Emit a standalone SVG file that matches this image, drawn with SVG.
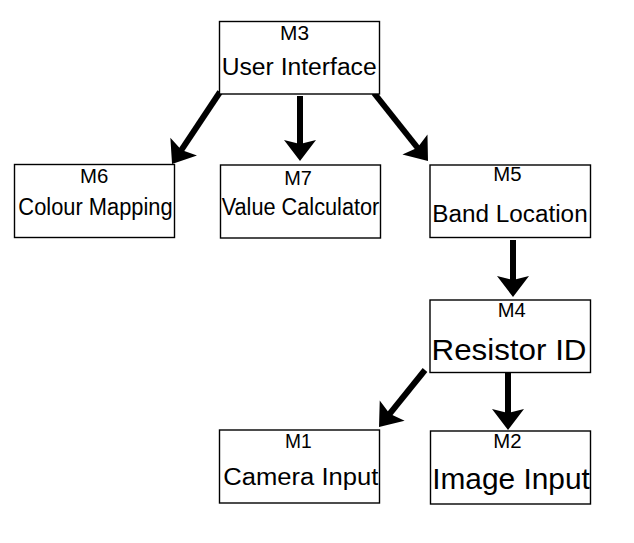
<svg xmlns="http://www.w3.org/2000/svg" width="634" height="543" viewBox="0 0 634 543">
<style>
.box{fill:#fff;stroke:#000;stroke-width:1.4}
.t{font-family:"Liberation Sans",Arial,sans-serif;fill:#000;text-anchor:middle}
.m{font-size:20px}
.n{font-size:23.5px}
.b{font-size:30px}
.edge{stroke:#000;stroke-width:6;fill:none;marker-end:url(#ah)}
</style>
<defs>
<marker id="ah" markerUnits="userSpaceOnUse" viewBox="0 0 24 34" markerWidth="24" markerHeight="34" refX="8" refY="17" orient="auto">
<path d="M1,1 L22,17 L1,33 L5,17 Z" fill="#000"/>
</marker>
</defs>
<rect x="0" y="0" width="634" height="543" fill="#fff"/>
<g id="connectors">
<line class="edge" x1="220" y1="92" x2="179.8" y2="152.4"/>
<line class="edge" x1="300" y1="96" x2="300" y2="147"/>
<line class="edge" x1="374" y1="93" x2="419.3" y2="150"/>
<line class="edge" x1="513" y1="240" x2="513" y2="283"/>
<line class="edge" x1="425" y1="370" x2="387.8" y2="416.1"/>
<line class="edge" x1="508" y1="373" x2="508" y2="416"/>
</g>
<g id="M3">
<rect class="box" x="219.5" y="21.5" width="160" height="72.5"/>
<text class="t m" x="294.5" y="40.3" textLength="29" lengthAdjust="spacingAndGlyphs">M3</text>
<text class="t n" x="299.2" y="75.3" textLength="155" lengthAdjust="spacingAndGlyphs">User Interface</text>
</g>
<g id="M6">
<rect class="box" x="14.5" y="164.5" width="160" height="73"/>
<text class="t m" x="94.2" y="183.3" textLength="28.3" lengthAdjust="spacingAndGlyphs">M6</text>
<text class="t n" x="95.5" y="215" textLength="154.3" lengthAdjust="spacingAndGlyphs">Colour Mapping</text>
</g>
<g id="M7">
<rect class="box" x="220.5" y="165" width="160" height="73"/>
<text class="t m" x="298" y="184.5" textLength="27.7" lengthAdjust="spacingAndGlyphs">M7</text>
<text class="t n" x="300.5" y="215" textLength="157.7" lengthAdjust="spacingAndGlyphs">Value Calculator</text>
</g>
<g id="M5">
<rect class="box" x="430" y="165" width="160.5" height="72.5"/>
<text class="t m" x="507.5" y="181" textLength="28.3" lengthAdjust="spacingAndGlyphs">M5</text>
<text class="t n" x="510" y="222.3" textLength="155.3" lengthAdjust="spacingAndGlyphs">Band Location</text>
</g>
<g id="M4">
<rect class="box" x="430" y="300" width="160.5" height="72.5"/>
<text class="t m" x="511.7" y="317.3" textLength="28" lengthAdjust="spacingAndGlyphs">M4</text>
<text class="t b" x="509" y="360" textLength="155" lengthAdjust="spacingAndGlyphs">Resistor ID</text>
</g>
<g id="M1">
<rect class="box" x="219.5" y="430" width="160" height="73"/>
<text class="t m" x="298.3" y="448.3" textLength="26.7" lengthAdjust="spacingAndGlyphs">M1</text>
<text class="t n" x="300.8" y="485" textLength="155" lengthAdjust="spacingAndGlyphs">Camera Input</text>
</g>
<g id="M2">
<rect class="box" x="430.5" y="431" width="160" height="73"/>
<text class="t m" x="507.5" y="447.7" textLength="28.3" lengthAdjust="spacingAndGlyphs">M2</text>
<text class="t" style="font-size:29px" x="511" y="488.7" textLength="157.7" lengthAdjust="spacingAndGlyphs">Image Input</text>
</g>
</svg>
